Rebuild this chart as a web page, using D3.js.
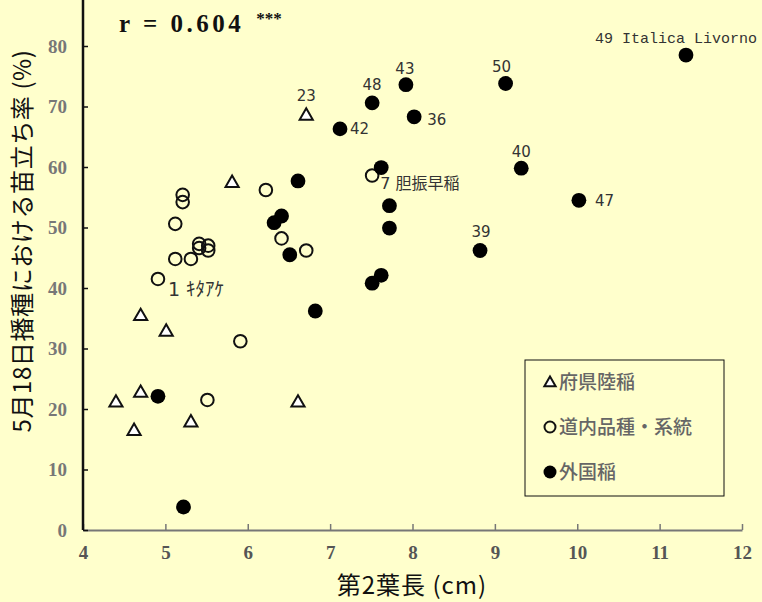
<!DOCTYPE html>
<html>
<head>
<meta charset="utf-8">
<script src="https://cdn.jsdelivr.net/npm/d3@7"></script>
<style>
  body { margin: 0; background: #ffffcc; }
  svg { display: block; }
</style>
</head>
<body>
<div id="chart"></div>
<script>
// 府県陸稲 (triangles)
const prefLength = [6.71, 5.81, 4.70, 5.01, 4.70, 4.40, 4.62, 5.31, 6.61];
const prefRate = [68.6, 57.5, 35.5, 32.9, 22.8, 21.2, 16.5, 17.9, 21.2];
const prefLabel = ["23", "", "", "", "", "", "", "", ""];

// 道内品種・系統 (open circles)
const hokLength = [5.21, 5.21, 5.12, 5.41, 5.41, 5.52, 5.52, 5.12, 5.31, 4.91, 5.91, 5.51, 6.22, 6.41, 6.71, 7.51];
const hokRate = [55.4, 54.2, 50.6, 47.3, 46.6, 47.0, 46.2, 44.8, 44.8, 41.5, 31.2, 21.5, 56.2, 48.2, 46.2, 58.6];
const hokLabel = ["", "", "", "", "", "", "", "", "", "1 ｷﾀｱｹ", "", "", "", "", "", "7 胆振早稲"];

// 外国稲 (filled circles)
const forLength = [11.32, 9.13, 7.92, 7.51, 8.02, 7.12, 9.32, 10.02, 8.82, 7.62, 6.61, 7.72, 7.72, 6.41, 6.32, 6.51, 7.62, 7.51, 6.82, 4.91, 5.22];
const forRate = [78.5, 73.8, 73.6, 70.6, 68.3, 66.3, 59.8, 54.5, 46.2, 59.9, 57.7, 53.6, 49.9, 51.9, 50.8, 45.5, 42.1, 40.8, 36.2, 22.1, 3.8];
const forLabel = ["49 Italica Livorno", "50", "43", "48", "36", "42", "40", "47", "39", "", "", "", "", "", "", "", "", "", "", "", ""];

const xTicks = [4, 5, 6, 7, 8, 9, 10, 11, 12];
const yTicks = [0, 10, 20, 30, 40, 50, 60, 70, 80];
const legendItems = ["府県陸稲", "道内品種・系統", "外国稲"];

// where each point label sits relative to its marker
const labelPlace = {
  "23": { dx: 0, dy: -19, anchor: "middle" },
  "50": { dx: -4, dy: -17, anchor: "middle" },
  "43": { dx: -1, dy: -16, anchor: "middle" },
  "48": { dx: 0, dy: -18, anchor: "middle" },
  "40": { dx: 0, dy: -16, anchor: "middle" },
  "39": { dx: 1, dy: -19, anchor: "middle" },
  "36": { dx: 13, dy: 3, anchor: "start" },
  "42": { dx: 10, dy: 0, anchor: "start" },
  "47": { dx: 16, dy: 0, anchor: "start" },
  "49 Italica Livorno": { dx: -91, dy: -17, anchor: "start", mono: true },
  "7 胆振早稲": { dx: 8, dy: 8, anchor: "start", size: 16 },
  "1 ｷﾀｱｹ": { dx: 10, dy: 10, anchor: "start", size: 19 }
};

const W = 762, H = 602;
const svg = d3.select("#chart").append("svg")
  .attr("width", W).attr("height", H);

svg.append("rect").attr("width", W).attr("height", H).attr("fill", "#ffffcc");

const x = d3.scaleLinear().domain([4, 12]).range([83, 742]);
const y = d3.scaleLinear().domain([0, 80]).range([530, 46]);

// x axis
const xAxis = svg.append("g").attr("transform", `translate(0,${y(0)})`)
  .call(d3.axisBottom(x).tickValues(xTicks).tickSizeInner(-6).tickSizeOuter(0).tickPadding(16));
xAxis.select(".domain").attr("stroke", "#777").attr("stroke-width", 2);
xAxis.selectAll(".tick line").attr("stroke", "#777").attr("stroke-width", 1.5);
xAxis.selectAll(".tick text")
  .attr("font-family", "'Liberation Serif', 'DejaVu Serif', serif")
  .attr("font-size", 19).attr("font-weight", "bold").attr("fill", "#555");

// y axis
const yAxis = svg.append("g").attr("transform", `translate(${x(4)},0)`)
  .call(d3.axisLeft(y).tickValues(yTicks).tickSizeInner(-5).tickSizeOuter(0).tickPadding(16));
yAxis.select(".domain").attr("d", `M0,0V${y(0)}`).attr("stroke", "#111").attr("stroke-width", 2.5);
yAxis.selectAll(".tick line").attr("stroke", "#111").attr("stroke-width", 1.5);
yAxis.selectAll(".tick text")
  .attr("font-family", "'Liberation Serif', 'DejaVu Serif', serif")
  .attr("font-size", 19).attr("font-weight", "bold").attr("fill", "#777");

// axis titles
svg.append("text")
  .attr("transform", `translate(31,241) rotate(-90)`)
  .attr("text-anchor", "middle")
  .attr("font-family", "'Noto Sans CJK JP', sans-serif")
  .attr("font-size", 24).attr("letter-spacing", 0.6).attr("fill", "#111")
  .text("5月18日播種における苗立ち率 (%)");

svg.append("text")
  .attr("x", 412).attr("y", 594)
  .attr("text-anchor", "middle")
  .attr("font-family", "'Noto Sans CJK JP', sans-serif")
  .attr("font-size", 24).attr("letter-spacing", 1).attr("fill", "#111")
  .text("第2葉長 (cm)");

// correlation
const rText = svg.append("text").attr("x", 119).attr("y", 32)
  .attr("font-family", "'Liberation Serif', 'DejaVu Serif', serif")
  .attr("font-size", 25).attr("font-weight", "bold").attr("fill", "#111")
  .attr("letter-spacing", 3.5);
rText.append("tspan").text("r = 0.604");
rText.append("tspan").attr("dx", 12).attr("dy", -8).attr("font-size", 17).attr("letter-spacing", 0).text("***");

// markers
const tri = d3.symbol().type(d3.symbolTriangle).size(75);

const triData = prefLength.map((v, i) => ({ x: v, y: prefRate[i], label: prefLabel[i] }));
const hokData = hokLength.map((v, i) => ({ x: v, y: hokRate[i], label: hokLabel[i] }));
const forData = forLength.map((v, i) => ({ x: v, y: forRate[i], label: forLabel[i] }));

svg.append("g").selectAll("circle").data(hokData).join("circle")
  .attr("cx", d => x(d.x)).attr("cy", d => y(d.y)).attr("r", 6.3)
  .attr("fill", "none").attr("stroke", "#111").attr("stroke-width", 2);

svg.append("g").selectAll("circle").data(forData).join("circle")
  .attr("cx", d => x(d.x)).attr("cy", d => y(d.y)).attr("r", 7.4)
  .attr("fill", "#000");

svg.append("g").selectAll("path").data(triData).join("path")
  .attr("d", tri)
  .attr("transform", d => `translate(${x(d.x)},${y(d.y) + 1})`)
  .attr("fill", "#fff").attr("stroke", "#111").attr("stroke-width", 2);

// point labels
const labelled = [...triData, ...hokData, ...forData].filter(d => d.label);
svg.append("g").selectAll("text").data(labelled).join("text")
  .attr("x", d => x(d.x) + labelPlace[d.label].dx)
  .attr("y", d => y(d.y) + labelPlace[d.label].dy)
  .attr("dy", "0.35em")
  .attr("text-anchor", d => labelPlace[d.label].anchor)
  .attr("font-family", d => labelPlace[d.label].mono ? "'Liberation Mono', monospace" : "'DejaVu Sans', 'Noto Sans CJK JP', sans-serif")
  .attr("font-size", d => labelPlace[d.label].size || 15)
  .attr("fill", "#333")
  .text(d => d.label);

// legend
const lg = svg.append("g").attr("transform", "translate(525,360)");
lg.append("rect").attr("width", 199).attr("height", 136)
  .attr("fill", "none").attr("stroke", "#111").attr("stroke-width", 1);
const legendRows = lg.selectAll("g").data(legendItems).join("g")
  .attr("transform", (d, i) => `translate(25,${22 + i * 45})`);
legendRows.each(function (d, i) {
  const g = d3.select(this);
  if (i === 0) {
    g.append("path").attr("d", d3.symbol().type(d3.symbolTriangle).size(55))
      .attr("transform", "translate(0,1)")
      .attr("fill", "#fff").attr("stroke", "#111").attr("stroke-width", 2);
  } else if (i === 1) {
    g.append("circle").attr("r", 5.5).attr("fill", "none").attr("stroke", "#111").attr("stroke-width", 2);
  } else {
    g.append("circle").attr("r", 6.5).attr("fill", "#000");
  }
  g.append("text").attr("x", 9).attr("dy", "0.36em")
    .attr("font-family", "'Noto Sans CJK JP', sans-serif")
    .attr("font-size", 19).attr("font-weight", 500).attr("fill", "#666")
    .text(d);
});
</script>
</body>
</html>
